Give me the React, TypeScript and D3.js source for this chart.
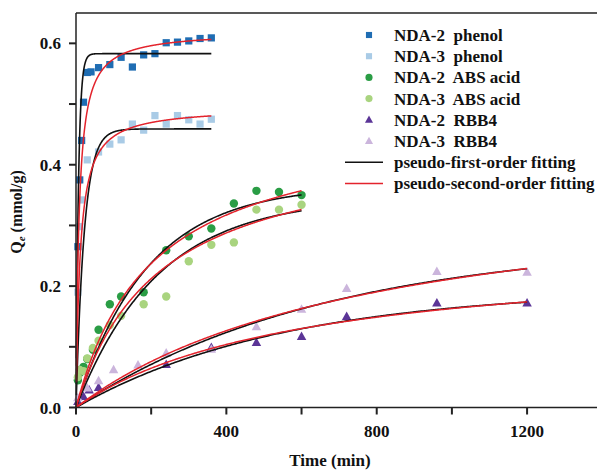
import React from "react";
import * as d3 from "d3";

// Adsorption kinetics: uptake Qe (mmol/g) versus contact time (min)
const phenolTimesA = [5, 10, 15, 20, 30, 40, 60, 90, 120, 150, 180, 210, 240, 270, 300, 330, 360];
const nda2Phenol = [0.265, 0.375, 0.44, 0.503, 0.552, 0.553, 0.56, 0.565, 0.577, 0.561, 0.581, 0.583, 0.601, 0.602, 0.604, 0.608, 0.609];
const phenolTimesB = [5, 10, 15, 30, 60, 90, 120, 150, 180, 210, 240, 270, 300, 330, 360];
const nda3Phenol = [0.19, 0.298, 0.342, 0.408, 0.421, 0.434, 0.441, 0.467, 0.457, 0.481, 0.467, 0.481, 0.474, 0.467, 0.475];

const absTimes = [5, 10, 20, 30, 45, 60, 90, 120, 180, 240, 300, 360, 420, 480, 540, 600];
const nda2Abs = [0.045, 0.057, 0.067, 0.08, 0.095, 0.128, 0.17, 0.183, 0.19, 0.259, 0.282, 0.295, 0.336, 0.357, 0.355, 0.35];
const nda3Abs = [0.05, 0.062, 0.06, 0.081, 0.098, 0.11, 0.136, 0.151, 0.17, 0.183, 0.241, 0.268, 0.272, 0.326, 0.326, 0.334];

const rbbTimesA = [5, 20, 35, 60, 240, 360, 480, 600, 720, 960, 1200];
const nda2Rbb = [0.01, 0.018, 0.029, 0.033, 0.071, 0.099, 0.107, 0.117, 0.15, 0.172, 0.172];
const rbbTimesB = [5, 30, 60, 100, 165, 240, 360, 480, 600, 720, 960, 1200];
const nda3Rbb = [0.016, 0.032, 0.044, 0.062, 0.07, 0.09, 0.096, 0.133, 0.162, 0.196, 0.224, 0.223];

// Fitted kinetic parameters: [qe, k, tStart, tEnd]
const firstOrderFits = [
  [0.583, 0.15, 1, 360],
  [0.459, 0.045, 1, 360],
  [0.366, 0.00525, 0, 600],
  [0.346, 0.0046, 0, 600],
  [0.196, 0.001808, 0, 1200],
  [0.274, 0.0015, 0, 1200],
];
const secondOrderFits = [
  [0.62, 0.2016, 1, 360],
  [0.495, 0.186, 1, 360],
  [0.478, 0.01031, 0, 600],
  [0.446, 0.01018, 0, 600],
  [0.263, 0.0062, 0, 1200],
  [0.385, 0.00318, 0, 1200],
];

const xTicks = [0, 200, 400, 600, 800, 1000, 1200, 1400];
const yTicks = [0, 0.1, 0.2, 0.3, 0.4, 0.5, 0.6];

const legendNames = [
  "NDA-2  phenol",
  "NDA-3  phenol",
  "NDA-2  ABS acid",
  "NDA-3  ABS acid",
  "NDA-2  RBB4",
  "NDA-3  RBB4",
];

const W = 597;
const H = 470;
const FONT = "'Liberation Serif', 'Times New Roman', serif";

type Series = { name: string; t: number[]; q: number[]; color: string; shape: "square" | "circle" | "triangle" };

const series: Series[] = [
  { name: legendNames[0], t: phenolTimesA, q: nda2Phenol, color: "#1f6db3", shape: "square" },
  { name: legendNames[1], t: phenolTimesB, q: nda3Phenol, color: "#a9cbe6", shape: "square" },
  { name: legendNames[2], t: absTimes, q: nda2Abs, color: "#2a9d45", shape: "circle" },
  { name: legendNames[3], t: absTimes, q: nda3Abs, color: "#a9d47f", shape: "circle" },
  { name: legendNames[4], t: rbbTimesA, q: nda2Rbb, color: "#5b3597", shape: "triangle" },
  { name: legendNames[5], t: rbbTimesB, q: nda3Rbb, color: "#cbb5dc", shape: "triangle" },
];

function Marker({ shape, x, y, color, s = 1 }: { shape: string; x: number; y: number; color: string; s?: number }) {
  if (shape === "square") {
    const h = 3.6 * s;
    return <rect x={x - h} y={y - h} width={2 * h} height={2 * h} fill={color} />;
  }
  if (shape === "circle") {
    return <circle cx={x} cy={y} r={4.2 * s} fill={color} />;
  }
  const r = 5 * s;
  const pts = `${x},${y - r} ${x + r * 0.95},${y + r * 0.7} ${x - r * 0.95},${y + r * 0.7}`;
  return <polygon points={pts} fill={color} />;
}

export default function App() {
  const x = d3.scaleLinear().domain([0, 1386]).range([76, 597]);
  const y = d3.scaleLinear().domain([0, 0.65]).range([407.5, 13]);

  const line = d3
    .line<[number, number]>()
    .x((d) => x(d[0]))
    .y((d) => y(d[1]));

  const sample = (t0: number, t1: number, f: (t: number) => number) => {
    const n = 400;
    const pts: [number, number][] = [];
    for (let i = 0; i <= n; i++) {
      const t = t0 + ((t1 - t0) * i) / n;
      pts.push([t, f(t)]);
    }
    return pts;
  };

  const pfo = firstOrderFits.map(([qe, k, a, b]) => sample(a, b, (t) => qe * (1 - Math.exp(-k * t))));
  const pso = secondOrderFits.map(([qe, k, a, b]) => sample(a, b, (t) => (qe * qe * k * t) / (1 + qe * k * t)));

  const axisColor = "#222";
  const legendY = (i: number) => 35 + i * 21.2;

  return (
    <svg width={W} height={H} style={{ position: "absolute", left: 0, top: 0, background: "#fff" }} fontFamily={FONT}>
      {/* data points */}
      {series.map((s, si) =>
        s.t.map((t, i) => <Marker key={`${si}-${i}`} shape={s.shape} x={x(t)} y={y(s.q[i])} color={s.color} />)
      )}

      {/* fitted curves */}
      {pfo.map((p, i) => (
        <path key={`b${i}`} d={line(p) || ""} fill="none" stroke="#111" strokeWidth={1.6} />
      ))}
      {pso.map((p, i) => (
        <path key={`r${i}`} d={line(p) || ""} fill="none" stroke="#e3232c" strokeWidth={1.5} />
      ))}

      {/* frame and axes */}
      <line x1={76} x2={W} y1={13} y2={13} stroke={axisColor} strokeWidth={1.5} />
      <line x1={76} x2={76} y1={13} y2={407.5} stroke={axisColor} strokeWidth={1.5} />
      <line x1={76} x2={W} y1={407.5} y2={407.5} stroke={axisColor} strokeWidth={1.5} />

      {xTicks.map((t) => (
        <line key={`xt${t}`} x1={x(t)} x2={x(t)} y1={407.5} y2={414.5} stroke={axisColor} strokeWidth={2} />
      ))}
      {xTicks
        .filter((t) => t % 400 === 0 && t <= 1200)
        .map((t) => (
          <text key={`xl${t}`} x={x(t)} y={437} textAnchor="middle" fontSize={17} fontWeight="bold" fill="#111">
            {t}
          </text>
        ))}

      {yTicks.map((v) => (
        <line key={`yt${v}`} x1={69} x2={76} y1={y(v)} y2={y(v)} stroke={axisColor} strokeWidth={2} />
      ))}
      {yTicks
        .filter((v, i) => i % 2 === 0)
        .map((v) => (
          <text key={`yl${v}`} x={61} y={y(v) + 6} textAnchor="end" fontSize={17} fontWeight="bold" fill="#111">
            {v.toFixed(1)}
          </text>
        ))}

      {/* axis titles */}
      <text x={330} y={466} textAnchor="middle" fontSize={17} fontWeight="bold" fill="#111">
        Time (min)
      </text>
      <text transform="translate(22,212) rotate(-90)" textAnchor="middle" fontSize={16} fontWeight="bold" fill="#111">
        Q
        <tspan fontSize={11} fontStyle="italic" dy={3}>
          e
        </tspan>
        <tspan dy={-3}> (mmol/g)</tspan>
      </text>

      {/* legend */}
      {series.map((s, i) => (
        <g key={`lg${i}`}>
          <Marker shape={s.shape} x={369} y={legendY(i)} color={s.color} s={0.85} />
          <text x={394} y={legendY(i) + 6} fontSize={17} fontWeight="bold" fill="#111" style={{ whiteSpace: "pre" }}>
            {s.name}
          </text>
        </g>
      ))}
      <line x1={345} x2={383} y1={legendY(6)} y2={legendY(6)} stroke="#111" strokeWidth={1.6} />
      <text x={394} y={legendY(6) + 6} fontSize={17} fontWeight="bold" fill="#111">
        pseudo-first-order fitting
      </text>
      <line x1={345} x2={383} y1={legendY(7)} y2={legendY(7)} stroke="#e3232c" strokeWidth={1.5} />
      <text x={394} y={legendY(7) + 6} fontSize={17} fontWeight="bold" fill="#111">
        pseudo-second-order fitting
      </text>
    </svg>
  );
}
